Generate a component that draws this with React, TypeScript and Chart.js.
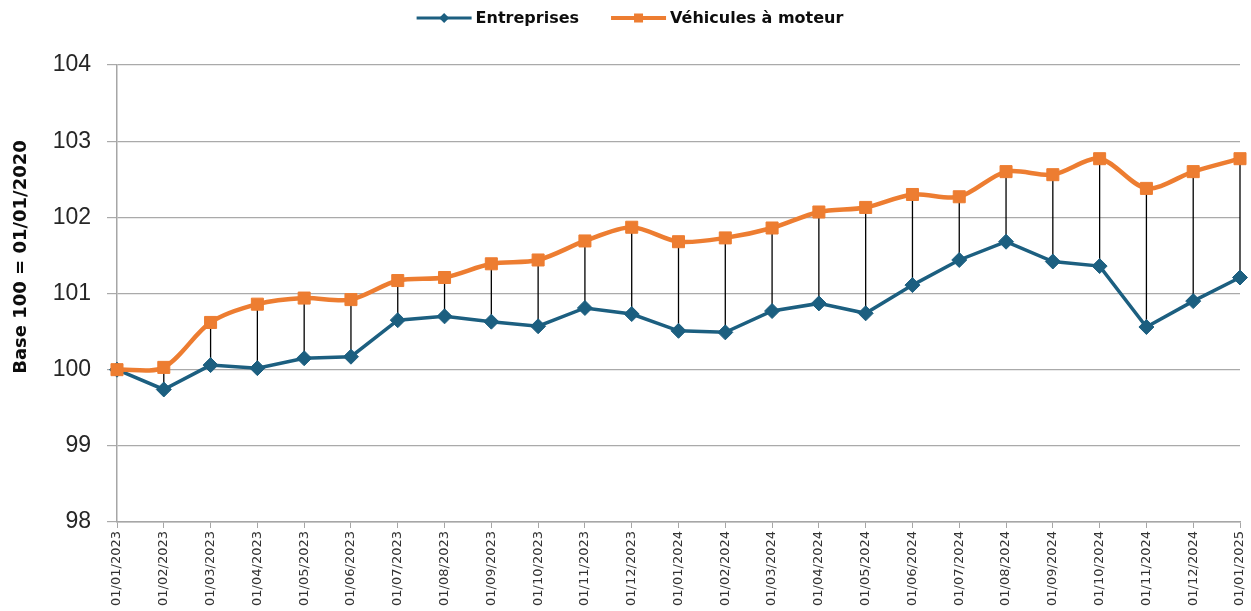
import React, { useEffect, useRef } from "react";
import { Chart, registerables } from "chart.js";

Chart.register(...registerables);

const categories = [
  "01/01/2023", "01/02/2023", "01/03/2023", "01/04/2023", "01/05/2023", "01/06/2023",
  "01/07/2023", "01/08/2023", "01/09/2023", "01/10/2023", "01/11/2023", "01/12/2023",
  "01/01/2024", "01/02/2024", "01/03/2024", "01/04/2024", "01/05/2024", "01/06/2024",
  "01/07/2024", "01/08/2024", "01/09/2024", "01/10/2024", "01/11/2024", "01/12/2024",
  "01/01/2025",
];

const entreprises = [
  100.0, 99.74, 100.06, 100.02, 100.15, 100.17, 100.65, 100.70, 100.63, 100.57, 100.81, 100.73,
  100.51, 100.49, 100.77, 100.87, 100.74, 101.11, 101.44, 101.68, 101.42, 101.36, 100.56, 100.90,
  101.21,
];

const vehicules = [
  100.0, 100.03, 100.62, 100.86, 100.94, 100.92, 101.17, 101.21, 101.39, 101.44, 101.69, 101.87,
  101.68, 101.73, 101.86, 102.07, 102.13, 102.30, 102.27, 102.60, 102.56, 102.77, 102.38, 102.60,
  102.77,
];

const seriesNames = ["Entreprises", "Véhicules à moteur"];
const yTitle = "Base 100 = 01/01/2020";
const yMin = 98;
const yMax = 104;
const yStep = 1;

const BLUE = "#1C5F80";
const ORANGE = "#ED7D31";

const dropLinesPlugin = {
  id: "dropLines",
  beforeDatasetsDraw(chart: any) {
    const { ctx, scales } = chart;
    const x = scales.x;
    const y = scales.y;
    ctx.save();
    ctx.strokeStyle = "#000000";
    ctx.lineWidth = 1.3;
    for (let i = 0; i < categories.length; i++) {
      const px = x.getPixelForValue(i);
      const y1 = y.getPixelForValue(vehicules[i]);
      const y2 = y.getPixelForValue(entreprises[i]);
      ctx.beginPath();
      ctx.moveTo(px, y1);
      ctx.lineTo(px, y2);
      ctx.stroke();
    }
    ctx.restore();
  },
};

const yTitlePlugin = {
  id: "yTitleCustom",
  afterDraw(chart: any) {
    const { ctx } = chart;
    ctx.save();
    ctx.translate(21, 257);
    ctx.rotate(-Math.PI / 2);
    ctx.font = "bold 18px 'DejaVu Sans'";
    ctx.fillStyle = "#0D0D0D";
    ctx.textAlign = "center";
    ctx.textBaseline = "middle";
    ctx.fillText(yTitle, 0, 0);
    ctx.restore();
  },
};

const legendPlugin = {
  id: "legendCustom",
  afterDraw(chart: any) {
    const { ctx } = chart;
    const items = [
      { text: seriesNames[0], color: BLUE, marker: "diamond", lw: 3 },
      { text: seriesNames[1], color: ORANGE, marker: "square", lw: 4 },
    ];
    const lineLen = 55;
    const textGap = 4;
    const itemGap = 32;
    const cy = 18;
    ctx.save();
    ctx.font = "bold 16px 'DejaVu Sans'";
    const widths = items.map((it) => lineLen + textGap + ctx.measureText(it.text).width);
    const total = widths.reduce((a, b) => a + b, 0) + itemGap * (items.length - 1);
    let x = 630 - total / 2;
    items.forEach((it, i) => {
      ctx.strokeStyle = it.color;
      ctx.lineWidth = it.lw;
      ctx.beginPath();
      ctx.moveTo(x, cy);
      ctx.lineTo(x + lineLen, cy);
      ctx.stroke();
      const mx = x + lineLen / 2;
      ctx.fillStyle = it.color;
      ctx.beginPath();
      if (it.marker === "diamond") {
        ctx.moveTo(mx, cy - 5);
        ctx.lineTo(mx + 5, cy);
        ctx.lineTo(mx, cy + 5);
        ctx.lineTo(mx - 5, cy);
        ctx.closePath();
      } else {
        ctx.rect(mx - 4.5, cy - 4.5, 9, 9);
      }
      ctx.fill();
      ctx.fillStyle = "#0D0D0D";
      ctx.textAlign = "left";
      ctx.textBaseline = "middle";
      ctx.fillText(it.text, x + lineLen + textGap, cy + 1);
      x += widths[i] + itemGap;
    });
    ctx.restore();
  },
};

export default function App() {
  const canvasRef = useRef<HTMLCanvasElement | null>(null);

  useEffect(() => {
    const canvas = canvasRef.current;
    if (!canvas) return;
    const chart = new Chart(canvas, {
      type: "line",
      data: {
        labels: categories,
        datasets: [
          {
            label: seriesNames[0],
            data: entreprises,
            borderColor: BLUE,
            backgroundColor: BLUE,
            borderWidth: 3.5,
            tension: 0,
            pointStyle: "rectRot",
            pointRadius: 7.5,
            pointBackgroundColor: BLUE,
            pointBorderColor: BLUE,
            pointBorderWidth: 1,
            order: 2,
          },
          {
            label: seriesNames[1],
            data: vehicules,
            borderColor: ORANGE,
            backgroundColor: ORANGE,
            borderWidth: 4.5,
            tension: 0.3,
            pointStyle: "rect",
            pointRadius: 8.5,
            pointBackgroundColor: ORANGE,
            pointBorderColor: ORANGE,
            pointBorderWidth: 1,
            order: 1,
          },
        ],
      },
      options: {
        responsive: false,
        animation: false,
        events: [],
        layout: { padding: { top: 65, right: 11, left: 0, bottom: 0 } },
        plugins: {
          legend: { display: false },
          tooltip: { enabled: false },
          title: { display: false },
        },
        scales: {
          x: {
            type: "category",
            offset: false,
            grid: {
              display: true,
              drawOnChartArea: false,
              drawTicks: true,
              tickLength: 6,
              color: "#A6A6A6",
            },
            border: { display: true, color: "#A6A6A6", width: 1.5 },
            ticks: {
              autoSkip: false,
              minRotation: 90,
              maxRotation: 90,
              padding: 3,
              color: "#333333",
              font: { family: "'DejaVu Sans'", size: 13 },
            },
            afterFit(scale: any) {
              scale.height = 89;
              scale.paddingLeft = 0;
              scale.paddingRight = 0;
            },
          },
          y: {
            min: yMin,
            max: yMax,
            grid: {
              color: "#AAAAAA",
              lineWidth: 1.2,
              tickLength: 10,
              drawTicks: true,
            },
            border: { display: true, color: "#A6A6A6", width: 1.5 },
            ticks: {
              stepSize: yStep,
              padding: 16,
              color: "#262626",
              font: { family: "'Liberation Sans'", size: 23 },
            },
            afterFit(scale: any) {
              scale.width = 117;
              scale.paddingTop = 0;
              scale.paddingBottom = 0;
            },
          },
        },
      },
      plugins: [dropLinesPlugin, yTitlePlugin, legendPlugin],
    });
    return () => chart.destroy();
  }, []);

  return (
    <div style={{ position: "fixed", left: 0, top: 0, width: 1251, height: 611, background: "#ffffff" }}>
      <canvas ref={canvasRef} width={1251} height={611} style={{ display: "block" }} />
    </div>
  );
}
